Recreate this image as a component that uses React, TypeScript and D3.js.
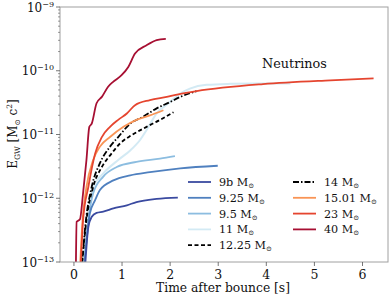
import * as React from "react";
import * as d3 from "d3";

// time after bounce [s] and log10(E_GW / Msun c^2)
const t9b = [0.23, 0.3, 0.37, 0.47, 0.61, 0.82, 1.1, 1.3, 1.72, 2.16];
const e9b = [-13.1, -12.45, -12.29, -12.23, -12.21, -12.16, -12.11, -12.06, -12.01, -11.99];

const t925 = [0.21, 0.33, 0.44, 0.54, 0.82, 1.17, 1.58, 2.21, 2.99];
const e925 = [-13.1, -12.24, -12.03, -11.87, -11.72, -11.64, -11.59, -11.53, -11.49];

const t95 = [0.21, 0.3, 0.4, 0.61, 0.89, 1.3, 1.79, 2.1];
const e95 = [-13.1, -12.34, -11.92, -11.66, -11.51, -11.43, -11.38, -11.34];

const t11 = [0.18, 0.3, 0.4, 0.61, 0.92, 1.17, 1.37, 1.51, 1.72, 2.0, 2.2, 2.41, 2.76, 3.25, 3.8, 4.3, 4.5];
const e11 = [-13.1, -12.34, -11.82, -11.61, -11.4, -11.25, -11.09, -10.93, -10.67, -10.49, -10.36, -10.28, -10.22, -10.205, -10.2, -10.2, -10.2];

const t1225 = [0.16, 0.26, 0.4, 0.58, 0.78, 0.96, 1.2, 1.51, 1.79, 2.07];
const e1225 = [-13.1, -12.34, -11.82, -11.51, -11.3, -11.14, -11.01, -10.88, -10.77, -10.65];

const t14 = [0.16, 0.25, 0.37, 0.54, 0.75, 0.92, 1.17, 1.44, 1.72, 2.0, 2.21, 2.55];
const e14 = [-13.1, -12.34, -11.82, -11.45, -11.19, -11.04, -10.83, -10.72, -10.59, -10.49, -10.41, -10.32];

const t1501 = [0.125, 0.18, 0.26, 0.4, 0.54, 0.75, 1.03, 1.3, 1.58, 1.86];
const e1501 = [-13.1, -12.34, -11.82, -11.4, -11.19, -11.04, -10.88, -10.77, -10.7, -10.62];

const t23 = [0.14, 0.19, 0.3, 0.44, 0.58, 0.75, 0.92, 1.1, 1.27, 1.58, 1.93, 2.17, 2.55, 3.93, 5.33, 6.23];
const e23 = [-13.1, -12.34, -11.82, -11.3, -11.04, -10.88, -10.77, -10.67, -10.54, -10.46, -10.41, -10.37, -10.32, -10.21, -10.15, -10.12];

const t40 = [0.04, 0.056, 0.125, 0.19, 0.26, 0.32, 0.37, 0.47, 0.58, 0.71, 0.82, 0.99, 1.13, 1.27, 1.51, 1.72, 1.91];
const e40 = [-13.1, -12.37, -12.33, -11.92, -11.4, -10.88, -10.83, -10.51, -10.41, -10.25, -10.17, -10.07, -9.94, -9.73, -9.6, -9.52, -9.5];

const xTicks = [0, 1, 2, 3, 4, 5, 6];
const yTicks = [-13, -12, -11, -10, -9];

const series = [
  { name: "9b", t: t9b, e: e9b, color: "#3a4aa0", dash: "" },
  { name: "9.25", t: t925, e: e925, color: "#4f80bf", dash: "" },
  { name: "9.5", t: t95, e: e95, color: "#8cbde0", dash: "" },
  { name: "11", t: t11, e: e11, color: "#d3eaf4", dash: "" },
  { name: "12.25", t: t1225, e: e1225, color: "#000000", dash: "4,2.5" },
  { name: "14", t: t14, e: e14, color: "#000000", dash: "6,2,1.5,2" },
  { name: "15.01", t: t1501, e: e1501, color: "#f99455", dash: "" },
  { name: "23", t: t23, e: e23, color: "#e5452f", dash: "" },
  { name: "40", t: t40, e: e40, color: "#a70f32", dash: "" },
];

const W = 390;
const H = 298;
const left = 60, right = 388, top = 7, bottom = 262;
const font = "'DejaVu Serif', serif";

export default function App() {
  const x = d3.scaleLinear().domain([-0.29, 6.53]).range([left, right]);
  const y = d3.scaleLog().domain([1e-13, 1e-9]).range([bottom, top]);

  const line = d3
    .line<[number, number]>()
    .x((d) => x(d[0]))
    .y((d) => y(Math.pow(10, d[1])))
    .curve(d3.curveMonotoneX);

  const minor: number[] = [];
  for (let dec = -13; dec < -9; dec++) {
    for (let m = 2; m < 10; m++) minor.push(m * Math.pow(10, dec));
  }

  // light ones first so darker lines sit on top like the figure
  const drawOrder = [3, 2, 1, 0, 4, 5, 6, 7, 8];

  return (
    <svg width={W} height={H} style={{ position: "absolute", left: 0, top: 0 }} fontFamily={font}>
      <rect width={W} height={H} fill="#fff" />
      <defs>
        <clipPath id="plot">
          <rect x={left} y={top} width={right - left} height={bottom - top} />
        </clipPath>
      </defs>

      <g clipPath="url(#plot)">
        {drawOrder.map((i) => {
          const s = series[i];
          const pts = s.t.map((t, k) => [t, s.e[k]] as [number, number]);
          return (
            <path
              key={s.name}
              d={line(pts) || ""}
              fill="none"
              stroke={s.color}
              strokeWidth={s.name === "11" ? 2 : 1.8}
              strokeDasharray={s.dash}
            />
          );
        })}
      </g>

      {/* frame */}
      <rect x={left} y={top} width={right - left} height={bottom - top} fill="none" stroke="#a0a0a0" strokeWidth={1} />

      {/* y axis */}
      {minor.map((v, i) => (
        <line key={"m" + i} x1={left - 2} x2={left} y1={y(v)} y2={y(v)} stroke="#555" strokeWidth={0.6} />
      ))}
      {yTicks.map((p) => (
        <g key={"y" + p}>
          <line x1={left - 4} x2={left} y1={y(Math.pow(10, p))} y2={y(Math.pow(10, p))} stroke="#555" strokeWidth={0.8} />
          <text x={left - 6} y={y(Math.pow(10, p)) + 4.5} textAnchor="end" fontSize={12} fill="#111">
            10<tspan fontSize={8} dy={-5}>{"\u2212" + Math.abs(p)}</tspan>
          </text>
        </g>
      ))}

      {/* x axis */}
      {xTicks.map((t) => (
        <g key={"x" + t}>
          <line x1={x(t)} x2={x(t)} y1={bottom} y2={bottom + 4} stroke="#555" strokeWidth={0.8} />
          <text x={x(t)} y={bottom + 17} textAnchor="middle" fontSize={12.5} fill="#111">
            {t}
          </text>
        </g>
      ))}
      <text x={223} y={292} textAnchor="middle" fontSize={12.3} fill="#111">
        Time after bounce [s]
      </text>

      <text transform={`translate(17,134) rotate(-90)`} textAnchor="middle" fontSize={12} fill="#111">
        E<tspan fontSize={7.5} dy={3}>GW</tspan>
        <tspan dy={-3}> [M</tspan>
        <tspan fontSize={7.5} dy={3}>⊙</tspan>
        <tspan dy={-3}> c</tspan>
        <tspan fontSize={7.5} dy={-5}>2</tspan>
        <tspan dy={5}>]</tspan>
      </text>

      <text x={262} y={67.5} fontSize={12.8} fill="#111">
        Neutrinos
      </text>

      {/* legend */}
      {series.map((s, i) => {
        const col = i < 5 ? 0 : 1;
        const row = i < 5 ? i : i - 5;
        const lx = col === 0 ? 188 : 293;
        const ly = 182 + row * 15.8;
        return (
          <g key={"l" + s.name}>
            <line x1={lx} x2={lx + 23} y1={ly} y2={ly} stroke={s.color} strokeWidth={1.8} strokeDasharray={s.dash} />
            <text x={lx + 31} y={ly + 4} fontSize={11.2} fill="#111">
              {s.name} M<tspan fontSize={7} dy={2}>⊙</tspan>
            </text>
          </g>
        );
      })}
    </svg>
  );
}
